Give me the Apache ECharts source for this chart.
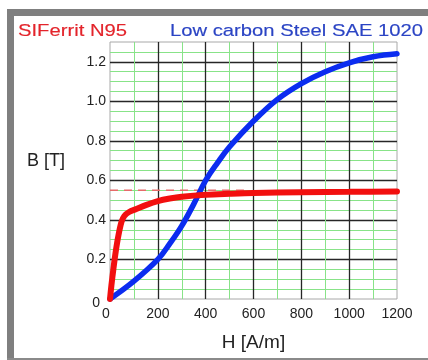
<!DOCTYPE html>
<html>
<head>
<meta charset="utf-8">
<script src="https://cdn.jsdelivr.net/npm/echarts@6/dist/echarts.min.js"></script>
<style>
html,body{margin:0;padding:0;background:#fff;}
#c{width:428px;height:360px;}
</style>
</head>
<body>
<div id="c"></div>
<script>
// SIFerrit N95 (red)
const hFerrit = [0, 6, 14, 24, 35, 48, 60, 80, 110, 150, 200, 250, 300, 400, 500, 600, 800, 1000, 1200];
const bFerrit = [0, 0.07, 0.15, 0.24, 0.32, 0.39, 0.42, 0.44, 0.455, 0.475, 0.495, 0.508, 0.517, 0.527, 0.532, 0.536, 0.54, 0.542, 0.544];
// Low carbon Steel SAE 1020 (blue)
const hSteel = [0, 100, 200, 250, 300, 350, 400, 450, 500, 600, 700, 800, 900, 1000, 1100, 1200];
const bSteel = [0, 0.09, 0.2, 0.28, 0.37, 0.48, 0.6, 0.69, 0.77, 0.9, 1.01, 1.09, 1.15, 1.195, 1.225, 1.24];
// Saturation reference (dashed)
const hSat = [0, 560];
const bSat = [0.55, 0.55];
const seriesNames = ['SIFerrit N95', 'Low carbon Steel SAE 1020'];
const xMax = 1200, yMax = 1.3;

const pairs = (xs, ys) => xs.map((x, i) => [x, ys[i]]);

const chart = echarts.init(document.getElementById('c'), null, {renderer: 'canvas'});
const FONT = '"Liberation Sans", Arial, sans-serif';
const green = '#88e388', black = '#262626';

chart.setOption({
  animation: false,
  backgroundColor: '#fff',
  grid: {left: 110, right: 31, top: 42, bottom: 61, containLabel: false, outerBoundsMode: 'none',
         show: true, borderColor: '#a8a8a8', borderWidth: 1, backgroundColor: '#fff'},
  graphic: [
    {type: 'rect', shape: {x: 7, y: 9, width: 421, height: 7}, style: {fill: '#7f7f7f'}},
    {type: 'rect', shape: {x: 7, y: 9, width: 7, height: 351}, style: {fill: '#7f7f7f'}},
    {type: 'rect', shape: {x: 7, y: 358, width: 421, height: 2}, style: {fill: '#8a8a8a'}},
    {type: 'text', x: 18, y: 31.5, scaleX: 1.19, style: {text: seriesNames[0], fill: '#e3242b', font: '17px ' + FONT, textVerticalAlign: 'middle', stroke: '#e3242b', lineWidth: 0.15}},
    {type: 'text', x: 170, y: 31.5, scaleX: 1.19, style: {text: seriesNames[1], fill: '#2b44c4', font: '17px ' + FONT, textVerticalAlign: 'middle', stroke: '#2b44c4', lineWidth: 0.15}}
  ],
  xAxis: [
    {type: 'value', min: 0, max: xMax, interval: 100, position: 'bottom',
     axisLine: {show: false}, axisTick: {show: false}, axisLabel: {show: false},
     splitLine: {show: true, showMinLine: false, showMaxLine: false, lineStyle: {color: green, width: 1}}},
    {type: 'value', min: 0, max: xMax, interval: 200, position: 'bottom', offset: 0,
     axisLine: {show: false}, axisTick: {show: false},
     axisLabel: {show: true, margin: 8, color: '#222', fontSize: 14, fontFamily: FONT,
       formatter: v => v === 0 ? '{z|0}' : String(v),
       rich: {z: {padding: [0, 8, 0, 0], fontSize: 14, color: '#222', fontFamily: FONT}}},
     name: 'H [A/m]', nameLocation: 'middle', nameGap: 34,
     nameTextStyle: {fontSize: 19, color: '#222', fontFamily: FONT},
     splitLine: {show: true, showMinLine: false, showMaxLine: false, lineStyle: {color: black, width: 1.3}}}
  ],
  yAxis: [
    {type: 'value', min: 0, max: yMax, interval: 0.05, position: 'left',
     axisLine: {show: false}, axisTick: {show: false}, axisLabel: {show: false},
     splitLine: {show: true, showMinLine: false, showMaxLine: false, lineStyle: {color: green, width: 1}}},
    {type: 'value', min: 0, max: yMax, interval: 0.2, position: 'left', offset: 0,
     axisLine: {show: false}, axisTick: {show: false},
     axisLabel: {show: true, margin: 4, color: '#222', fontSize: 14, fontFamily: FONT,
       formatter: v => v === 0 ? '{z|0}' : (v > 1.25 ? '' : v.toFixed(1)),
       rich: {z: {padding: [8, 6, 0, 0], fontSize: 14, color: '#222', fontFamily: FONT}}},
     name: 'B [T]', nameLocation: 'middle', nameRotate: 0, nameGap: 45,
     nameTextStyle: {fontSize: 18, color: '#222', fontFamily: FONT, verticalAlign: 'bottom'},
     splitLine: {show: true, showMinLine: false, showMaxLine: false, lineStyle: {color: black, width: 1.3}}}
  ],
  series: [
    {type: 'line', name: 'saturation', xAxisIndex: 1, yAxisIndex: 1, data: pairs(hSat, bSat),
     showSymbol: false, lineStyle: {color: '#e66a6a', width: 1.5, type: [8, 6]}, z: 3},
    {type: 'line', name: seriesNames[1], xAxisIndex: 1, yAxisIndex: 1, data: pairs(hSteel, bSteel),
     smooth: 0.4, showSymbol: false, lineStyle: {color: '#0b2cf0', width: 5.5, cap: 'round'}, z: 4},
    {type: 'line', name: seriesNames[0], xAxisIndex: 1, yAxisIndex: 1, data: pairs(hFerrit, bFerrit),
     smooth: 0.3, showSymbol: false, lineStyle: {color: '#f20f0f', width: 6, cap: 'round'}, z: 5}
  ]
});
</script>
</body>
</html>
